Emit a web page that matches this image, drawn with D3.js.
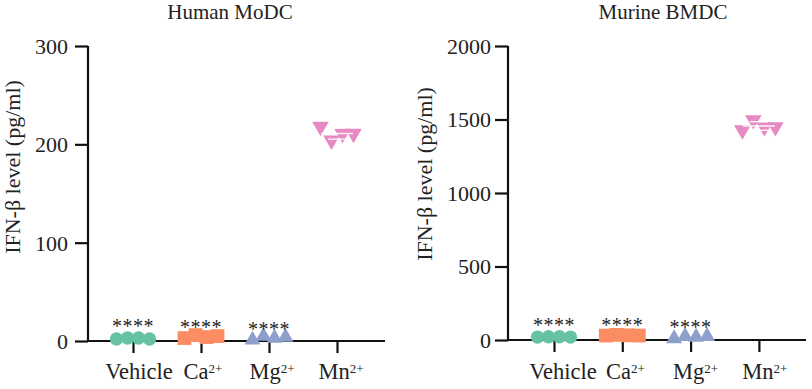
<!DOCTYPE html>
<html><head><meta charset="utf-8">
<script src="https://cdn.jsdelivr.net/npm/d3@7"></script>
<style>body{margin:0;background:#fff}svg{display:block}text{font-family:"Liberation Serif","Times New Roman",serif;fill:#222}</style>
</head><body><svg id="c" width="812" height="389"></svg>
<script>
const categories = ["Vehicle", "Ca", "Mg", "Mn"];
const superscripts = ["", "2+", "2+", "2+"];
const colors = ["#66c2a5", "#fc8d62", "#8da0cb", "#e78ac3"];
const significance = ["****", "****", "****", ""];
const humanValues = [[2, 3, 3, 2], [3, 6, 4, 5], [1, 5, 3, 4], [218, 204, 211, 211]];
const murineValues = [[20, 22, 22, 20], [30, 35, 32, 30], [10, 25, 20, 25], [1428, 1497, 1449, 1449]];
const humanTicks = [0, 100, 200, 300];
const murineTicks = [0, 500, 1000, 1500, 2000];
const yLabel = "IFN-β level (pg/ml)";

const svg = d3.select("#c");
const shapes = [d3.symbolCircle, d3.symbolSquare, d3.symbolTriangle, d3.symbolTriangle];
const sizes = [140, 190, 110, 120];
const rotations = [0, 0, 0, 180];

function panel(o) {
  const g = svg.append("g");
  const y = d3.scaleLinear().domain([0, o.max]).range([o.y0, o.y1]);
  const x = d3.scalePoint().domain(categories).range([o.x0, o.x0 + 3 * o.step]);
  const jit = d3.scalePoint().domain(d3.range(4)).range([-16.5, 16.5]);

  // Y axis
  const ya = g.append("g").attr("transform", `translate(${o.axisX},0)`)
    .call(d3.axisLeft(y).tickValues(o.ticks).tickSize(13).tickPadding(o.tickPad).tickFormat(d3.format("d")));
  ya.attr("font-family", null).attr("font-size", null);
  ya.select(".domain").attr("d", `M0,${o.y0 + 1}V${o.y1}`).attr("stroke", "#111").attr("stroke-width", 2.2);
  ya.selectAll(".tick line").attr("stroke", "#111").attr("stroke-width", 2.2);
  ya.selectAll(".tick text").style("font-size", "22px").attr("fill", "#222").attr("dy", "0.34em");

  // X axis
  const xa = g.append("g").attr("transform", `translate(0,${o.y0})`)
    .call(d3.axisBottom(x).tickSize(12).tickFormat(""));
  xa.select(".domain").attr("d", `M${o.axisX},0H${o.axisEnd}`).attr("stroke", "#111").attr("stroke-width", 2.2);
  xa.selectAll(".tick line").attr("stroke", "#111").attr("stroke-width", 2.2);

  // category labels
  categories.forEach((c, i) => {
    const t = g.append("text").attr("x", x(c) + o.labelShift[i]).attr("y", o.labelY)
      .attr("text-anchor", "middle").style("font-size", "22.5px");
    t.append("tspan").text(c);
    if (superscripts[i]) t.append("tspan").text(superscripts[i]).attr("dy", "-0.5em").style("font-size", "13px");
  });

  // points
  o.values.forEach((vals, i) => {
    const cx = x(categories[i]);
    const sym = d3.symbol().type(shapes[i]).size(sizes[i]);
    vals.forEach((v, j) => {
      g.append("path").attr("d", sym())
        .attr("transform", `translate(${cx + jit(j)},${y(v)}) rotate(${rotations[i]})`)
        .attr("fill", colors[i]);
    });
    const m = d3.mean(vals), sd = d3.deviation(vals);
    if (y(m - sd) - y(m + sd) > 4) {
      const lg = g.append("g").attr("stroke", "#fff").attr("stroke-width", 1.4).attr("opacity", 0.9);
      lg.append("line").attr("x1", cx - 16).attr("x2", cx + 16).attr("y1", y(m)).attr("y2", y(m));
      [m - sd, m + sd].forEach(e => lg.append("line").attr("x1", cx - 9).attr("x2", cx + 9).attr("y1", y(e)).attr("y2", y(e)));
    }
    if (significance[i]) {
      g.append("text").attr("x", cx).attr("y", o.starY[i]).attr("text-anchor", "middle")
        .style("font-size", "20px").style("letter-spacing", "0.5px").attr("fill", "#333").text(significance[i]);
    }
  });

  // title
  g.append("text").attr("x", o.titleX).attr("y", 19).attr("text-anchor", "middle").style("font-size", "21px").text(o.title);
  // y label
  g.append("text").attr("transform", `translate(${o.labelX},${o.labelY2}) rotate(-90)`)
    .attr("text-anchor", "middle").style("font-size", "22px").text(yLabel);
}

panel({values: humanValues, ticks: humanTicks, max: 300, y0: 341, y1: 46, axisX: 88, axisEnd: 385, tickPad: 7,
  x0: 133, step: 68, labelY: 379, labelShift: [6, 2, 3, 4], title: "Human MoDC", titleX: 230,
  labelX: 20, labelY2: 167, starY: [333, 334, 336]});
panel({values: murineValues, ticks: murineTicks, max: 2000, y0: 340, y1: 46, axisX: 508, axisEnd: 806, tickPad: 4,
  x0: 554, step: 68.3, labelY: 379, labelShift: [9, 3, 5, 6], title: "Murine BMDC", titleX: 663,
  labelX: 432, labelY2: 174, starY: [332, 332, 334]});
</script></body></html>
